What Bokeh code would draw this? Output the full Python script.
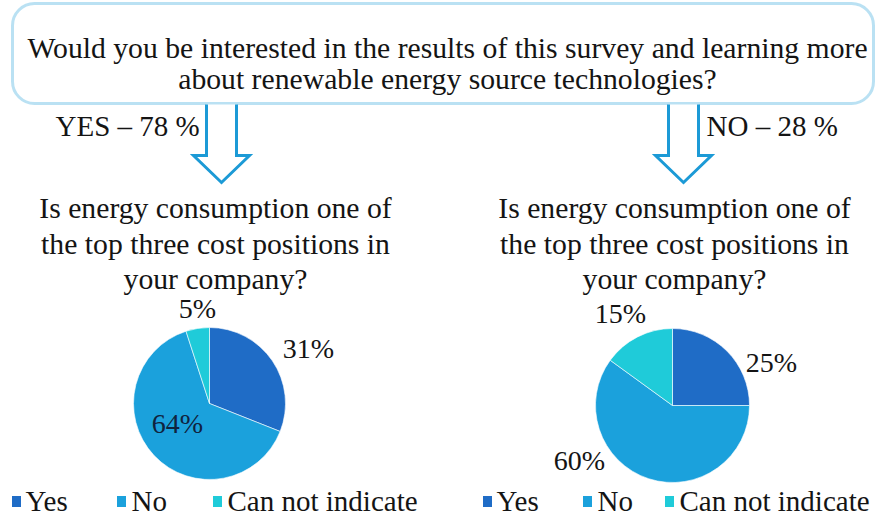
import math
from bokeh.plotting import figure
from bokeh.models import Range1d, BoxAnnotation
from bokeh.core.properties import value
from bokeh.embed import file_html
from bokeh.resources import INLINE

# ---------------- data ----------------
categories = ["Yes", "No", "Can not indicate"]
left_values = [31, 64, 5]
right_values = [25, 60, 15]
main_question = ["Would you be interested in the results of this survey and learning more",
                 "about renewable energy source technologies?"]
yes_branch = "YES \u2013 78 %"
no_branch = "NO \u2013 28 %"
sub_question = ["Is energy consumption one of",
                "the top three cost positions in",
                "your company?"]

# ---------------- style ----------------
colors = ["#1f6cc6", "#1ba1dc", "#1fcbd9"]
frame_blue = "#1c9ad6"
txt = "#141414"
FONT = value("Liberation Serif")

W, H = 879, 518
p = figure(width=W, height=H, output_backend="svg", toolbar_location=None,
           x_range=Range1d(0, W), y_range=Range1d(0, H),
           x_axis_type=None, y_axis_type=None, min_border=0)
p.grid.visible = False
p.outline_line_color = None
p.background_fill_color = "white"


def Y(py):
    # convert picture pixel row to data y
    return H - py


def B(py):
    # picture baseline row -> data y for an "alphabetic" text anchor
    return H - (py - 10)


# question box
p.add_layout(BoxAnnotation(left=12, right=873, top=Y(3), bottom=Y(103),
                           fill_color="white", fill_alpha=1.0, level="underlay",
                           line_color=frame_blue, line_width=3, border_radius=22))
p.text(x=[447, 447], y=[B(57), B(88)], text=main_question, text_font=FONT,
       text_font_size="29.7px", text_align="center", text_baseline="alphabetic",
       text_color=txt)


# arrows
def arrow(cx):
    xs = [cx - 15, cx - 15, cx - 28, cx, cx + 28, cx + 15, cx + 15]
    ys = [Y(104), Y(155), Y(155), Y(182), Y(155), Y(155), Y(104)]
    p.patch(xs, ys, fill_color="white", line_color=None)
    p.line(xs, ys, line_color=frame_blue, line_width=3, line_join="miter")


arrow(221)
arrow(683)

p.text(x=[55], y=[B(135)], text=[yes_branch], text_font=FONT, text_font_size="29px",
       text_align="left", text_baseline="alphabetic", text_color=txt)
p.text(x=[706], y=[B(135)], text=[no_branch], text_font=FONT, text_font_size="29px",
       text_align="left", text_baseline="alphabetic", text_color=txt)

# sub-questions
for cx in (215, 674):
    p.text(x=[cx] * 3, y=[B(217), B(253), B(288)], text=sub_question, text_font=FONT,
           text_font_size="29.7px", text_align="center", text_baseline="alphabetic",
           text_color=txt)


# pies
def pie(cx, cy, r, vals, label_pos, label_colors):
    total = float(sum(vals))
    starts, ends = [], []
    cum = 0.0
    for v in vals:
        starts.append(math.pi / 2 - 2 * math.pi * cum / total)
        cum += v
        ends.append(math.pi / 2 - 2 * math.pi * cum / total)
    p.wedge(x=[cx] * len(vals), y=[Y(cy)] * len(vals), radius=r,
            start_angle=starts, end_angle=ends, direction="clock",
            fill_color=colors, line_color="white", line_width=0.6)
    p.text(x=[cx + dx for dx, dy in label_pos], y=[B(cy + dy) for dx, dy in label_pos],
           text=[f"{v}%" for v in vals], text_font=FONT, text_font_size="28px",
           text_align="center", text_baseline="alphabetic", text_color=label_colors)


pie(209, 403, 76, left_values, [(99, -45), (-32, 30), (-12, -85)],
    [txt, "#10233f", txt])
pie(672, 405, 77, right_values, [(99, -33), (-93, 65), (-52, -82)],
    [txt, txt, txt])


# legends
def legend(marker_xs, text_xs):
    p.rect(x=marker_xs, y=[Y(501)] * 3, width=9, height=11, fill_color=colors,
           line_color=None)
    p.text(x=text_xs, y=[B(510)] * 3, text=categories, text_font=FONT,
           text_font_size="29px", text_align="left", text_baseline="alphabetic",
           text_color=txt)


legend([16, 121, 217], [25, 131, 227])
legend([487, 587, 669], [496, 597, 679])

open("out.html", "w").write(file_html(p, INLINE))
